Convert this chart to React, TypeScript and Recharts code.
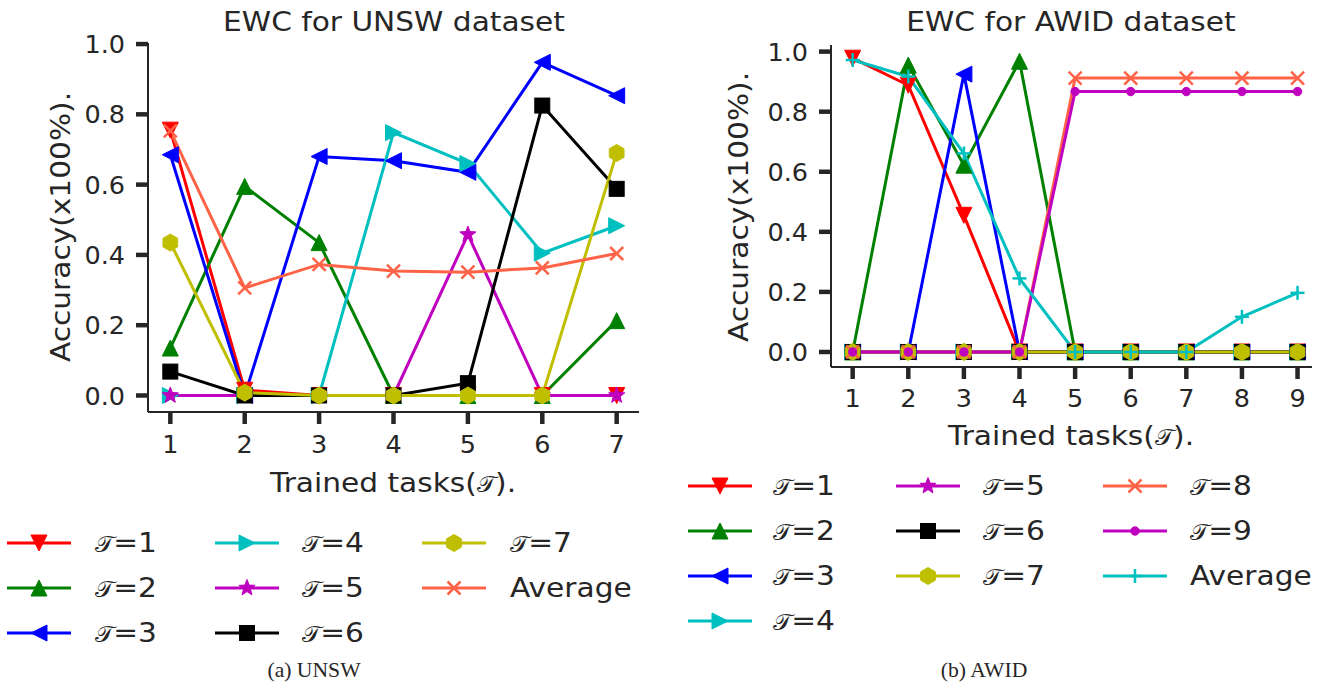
import { Line, LineChart, XAxis, YAxis } from "recharts";

// ---- UNSW (7 tasks) ----
const UNSW_TASKS = [1, 2, 3, 4, 5, 6, 7];
const UNSW_T1 = [0.755, 0.015, 0, 0, 0, 0, 0];
const UNSW_T2 = [0.135, 0.595, 0.435, 0, 0, 0, 0.213];
const UNSW_T3 = [0.685, 0, 0.68, 0.668, 0.635, 0.948, 0.853];
const UNSW_T4 = [0, 0, 0, 0.748, 0.66, 0.405, 0.483];
const UNSW_T5 = [0, 0, 0, 0, 0.458, 0, 0];
const UNSW_T6 = [0.068, 0, 0, 0, 0.035, 0.825, 0.588];
const UNSW_T7 = [0.435, 0.008, 0, 0, 0, 0, 0.69];
const UNSW_AVG = [0.753, 0.306, 0.373, 0.354, 0.351, 0.363, 0.404];

// ---- AWID (9 tasks) ----
const AWID_TASKS = [1, 2, 3, 4, 5, 6, 7, 8, 9];
const AWID_T1 = [0.978, 0.888, 0.455, 0, 0, 0, 0, 0, 0];
const AWID_T2 = [0, 0.955, 0.622, 0.968, 0, 0, 0, 0, 0];
const AWID_T3 = [0, 0, 0.925, 0, 0, 0, 0, 0, 0];
const AWID_T4 = [0, 0, 0, 0, 0, 0, 0, 0, 0];
const AWID_T5 = [0, 0, 0, 0, 0, 0, 0, 0, 0];
const AWID_T6 = [0, 0, 0, 0, 0, 0, 0, 0, 0];
const AWID_T7 = [0, 0, 0, 0, 0, 0, 0, 0, 0];
const AWID_T8 = [0, 0, 0, 0, 0.912, 0.912, 0.912, 0.912, 0.912];
const AWID_T9 = [0, 0, 0, 0, 0.867, 0.867, 0.867, 0.867, 0.867];
const AWID_AVG = [0.972, 0.917, 0.661, 0.245, 0, 0, 0, 0.117, 0.197];

const Y_TICKS = [0, 0.2, 0.4, 0.6, 0.8, 1.0];

const FONT = "'DejaVu Sans', sans-serif";
const INK = "#262626";

type Series = { key: string; name: string; values: number[]; color: string; marker: string };

const UNSW_SERIES: Series[] = [
  { key: "t1", name: "𝒯=1", values: UNSW_T1, color: "#ff0000", marker: "v" },
  { key: "t2", name: "𝒯=2", values: UNSW_T2, color: "#008000", marker: "^" },
  { key: "t3", name: "𝒯=3", values: UNSW_T3, color: "#0000ff", marker: "<" },
  { key: "t4", name: "𝒯=4", values: UNSW_T4, color: "#00bfbf", marker: ">" },
  { key: "t5", name: "𝒯=5", values: UNSW_T5, color: "#bf00bf", marker: "*" },
  { key: "t6", name: "𝒯=6", values: UNSW_T6, color: "#000000", marker: "s" },
  { key: "t7", name: "𝒯=7", values: UNSW_T7, color: "#bfbf00", marker: "h" },
  { key: "avg", name: "Average", values: UNSW_AVG, color: "#ff6347", marker: "x" },
];

const AWID_SERIES: Series[] = [
  { key: "t1", name: "𝒯=1", values: AWID_T1, color: "#ff0000", marker: "v" },
  { key: "t2", name: "𝒯=2", values: AWID_T2, color: "#008000", marker: "^" },
  { key: "t3", name: "𝒯=3", values: AWID_T3, color: "#0000ff", marker: "<" },
  { key: "t4", name: "𝒯=4", values: AWID_T4, color: "#00bfbf", marker: ">" },
  { key: "t5", name: "𝒯=5", values: AWID_T5, color: "#bf00bf", marker: "*" },
  { key: "t6", name: "𝒯=6", values: AWID_T6, color: "#000000", marker: "s" },
  { key: "t7", name: "𝒯=7", values: AWID_T7, color: "#bfbf00", marker: "h" },
  { key: "t8", name: "𝒯=8", values: AWID_T8, color: "#ff6347", marker: "x" },
  { key: "t9", name: "𝒯=9", values: AWID_T9, color: "#bf00bf", marker: "." },
  { key: "avg", name: "Average", values: AWID_AVG, color: "#00bfbf", marker: "+" },
];

function toRows(tasks: number[], series: Series[]) {
  return tasks.map((x, i) => {
    const row: Record<string, number> = { x };
    series.forEach((s) => { row[s.key] = s.values[i]; });
    return row;
  });
}

// the script T comes from a fallback font that runs wide; shrink it a bit
function MathText({ text }: { text: string }) {
  const parts = text.split("𝒯");
  return (
    <>
      {parts.map((p, i) => (
        <span key={i}>
          {i > 0 && <span style={{ fontSize: "0.86em", marginRight: -1 }}>𝒯</span>}
          {p}
        </span>
      ))}
    </>
  );
}

function Marker({ kind, color, cx, cy }: { kind: string; color: string; cx: number; cy: number }) {
  const r = 8;
  if (cx == null || cy == null) return null;
  switch (kind) {
    case "v":
      return <polygon points={`${cx},${cy + r} ${cx - r},${cy - r} ${cx + r},${cy - r}`} fill={color} stroke={color} />;
    case "^":
      return <polygon points={`${cx},${cy - r} ${cx - r},${cy + r} ${cx + r},${cy + r}`} fill={color} stroke={color} />;
    case "<":
      return <polygon points={`${cx - r},${cy} ${cx + r},${cy - r} ${cx + r},${cy + r}`} fill={color} stroke={color} />;
    case ">":
      return <polygon points={`${cx + r},${cy} ${cx - r},${cy - r} ${cx - r},${cy + r}`} fill={color} stroke={color} />;
    case "s":
      return <rect x={cx - 7.5} y={cy - 7.5} width={15} height={15} fill={color} stroke={color} />;
    case "h": {
      const pts = [0, 1, 2, 3, 4, 5].map((k) => {
        const a = (Math.PI / 180) * (90 + 60 * k);
        return `${cx + 8.5 * Math.cos(a)},${cy - 8.5 * Math.sin(a)}`;
      });
      return <polygon points={pts.join(" ")} fill={color} stroke={color} />;
    }
    case "*": {
      const pts = Array.from({ length: 10 }, (_, k) => {
        const rr = k % 2 === 0 ? 8.5 : 3.6;
        const a = (Math.PI / 180) * (90 + 36 * k);
        return `${cx + rr * Math.cos(a)},${cy - rr * Math.sin(a)}`;
      });
      return <polygon points={pts.join(" ")} fill={color} stroke={color} />;
    }
    case "x":
      return (
        <g stroke={color} strokeWidth={2.5}>
          <line x1={cx - 6.5} y1={cy - 6.5} x2={cx + 6.5} y2={cy + 6.5} />
          <line x1={cx - 6.5} y1={cy + 6.5} x2={cx + 6.5} y2={cy - 6.5} />
        </g>
      );
    case "+":
      return (
        <g stroke={color} strokeWidth={2.5}>
          <line x1={cx - 7} y1={cy} x2={cx + 7} y2={cy} />
          <line x1={cx} y1={cy - 7} x2={cx} y2={cy + 7} />
        </g>
      );
    case ".":
      return <circle cx={cx} cy={cy} r={4.2} fill={color} stroke={color} />;
    default:
      return null;
  }
}

function Panel({ left, width, height, margin, yAxisWidth, xAxisHeight, tasks, series, xDomain, yDomain, xTickMargin }: any) {
  const rows = toRows(tasks, series);
  const tickStyle = { fontSize: 25.5, fill: INK, fontFamily: FONT };
  return (
    <div style={{ position: "absolute", left, top: 0 }}>
      <LineChart width={width} height={height} data={rows} margin={margin}>
        <XAxis
          dataKey="x"
          type="number"
          domain={xDomain}
          allowDataOverflow
          ticks={tasks}
          height={xAxisHeight}
          tick={tickStyle}
          tickSize={12}
          tickMargin={xTickMargin}
          tickLine={{ stroke: INK, strokeWidth: 4.5 }}
          axisLine={{ stroke: INK, strokeWidth: 2 }}
        />
        <YAxis
          type="number"
          domain={yDomain}
          allowDataOverflow
          ticks={Y_TICKS}
          width={yAxisWidth}
          tick={tickStyle}
          tickFormatter={(v: number) => v.toFixed(1)}
          tickSize={12}
          tickMargin={11}
          tickLine={{ stroke: INK, strokeWidth: 4.5 }}
          axisLine={{ stroke: INK, strokeWidth: 2 }}
        />
        {series.map((s: Series) => (
          <Line
            key={s.key}
            dataKey={s.key}
            type="linear"
            stroke={s.color}
            strokeWidth={3}
            isAnimationActive={false}
            dot={(p: any) => <Marker key={`${s.key}-${p.index}`} kind={s.marker} color={s.color} cx={p.cx} cy={p.cy} />}
            activeDot={false}
          />
        ))}
      </LineChart>
    </div>
  );
}

function CenterText({ x, y, text, size = 26, stretch = 1.14, rotate = false, family = FONT }: any) {
  const tf = rotate
    ? `translate(-50%, -50%) rotate(-90deg) scaleX(${stretch})`
    : `translate(-50%, -50%) scaleX(${stretch})`;
  return (
    <div
      style={{
        position: "absolute", left: x, top: y, transform: tf, whiteSpace: "nowrap",
        fontSize: size, lineHeight: 1, fontFamily: family, color: INK,
      }}
    >
      <MathText text={text} />
    </div>
  );
}

function LegendItem({ s, x, y, textX }: { s: Series; x: number; y: number; textX: number }) {
  return (
    <>
      <svg style={{ position: "absolute", left: x, top: y - 12 }} width={64} height={24}>
        <line x1={0} y1={12} x2={64} y2={12} stroke={s.color} strokeWidth={3} />
        <Marker kind={s.marker} color={s.color} cx={32} cy={12} />
      </svg>
      <div
        style={{
          position: "absolute", left: textX, top: y, transform: "translateY(-50%) scaleX(1.14)",
          transformOrigin: "left center", whiteSpace: "nowrap", fontSize: 26, lineHeight: 1,
          fontFamily: FONT, color: INK,
        }}
      >
        <MathText text={s.name} />
      </div>
    </>
  );
}

export default function App() {
  const unswCols = [[0, 1, 2], [3, 4, 5], [6, 7]];
  const unswColX = [{ x: 7, t: 95 }, { x: 215, t: 302 }, { x: 422, t: 510 }];
  const unswRowY = [543, 588, 633];
  const awidCols = [[0, 1, 2, 3], [4, 5, 6], [7, 8, 9]];
  const awidColX = [{ x: 688, t: 773 }, { x: 896, t: 983 }, { x: 1103, t: 1190 }];
  const awidRowY = [486, 531, 576, 621];

  return (
    <div style={{ position: "absolute", left: 0, top: 0, width: 1331, height: 684, background: "#fff", overflow: "hidden" }}>
      <Panel
        left={0} width={660} height={470}
        margin={{ top: 43, right: 21, bottom: 0, left: 0 }}
        yAxisWidth={148} xAxisHeight={58}
        tasks={UNSW_TASKS} series={UNSW_SERIES}
        xDomain={[0.7, 7.3]} yDomain={[-0.047, 1.003]} xTickMargin={11}
      />
      <Panel
        left={680} width={651} height={420}
        margin={{ top: 45, right: 19, bottom: 0, left: 0 }}
        yAxisWidth={151} xAxisHeight={53}
        tasks={AWID_TASKS} series={AWID_SERIES}
        xDomain={[0.61, 9.26]} yDomain={[-0.05, 1.022]} xTickMargin={10}
      />

      <CenterText x={393.5} y={22} text="EWC for UNSW dataset" />
      <CenterText x={1071} y={22} text="EWC for AWID dataset" />
      <CenterText x={393} y={483} text="Trained tasks(𝒯)." />
      <CenterText x={1071} y={436} text="Trained tasks(𝒯)." />
      <CenterText x={61} y={227} text="Accuracy(x100%)." rotate />
      <CenterText x={739} y={207} text="Accuracy(x100%)." rotate />

      {unswCols.map((col, ci) =>
        col.map((si, ri) => (
          <LegendItem key={`u-${si}`} s={UNSW_SERIES[si]} x={unswColX[ci].x} y={unswRowY[ri]} textX={unswColX[ci].t} />
        ))
      )}
      {awidCols.map((col, ci) =>
        col.map((si, ri) => (
          <LegendItem key={`a-${si}`} s={AWID_SERIES[si]} x={awidColX[ci].x} y={awidRowY[ri]} textX={awidColX[ci].t} />
        ))
      )}

      <CenterText x={314} y={670} text="(a) UNSW" size={21} stretch={1.03} family="'Liberation Serif', 'Times New Roman', serif" />
      <CenterText x={984} y={670} text="(b) AWID" size={21} stretch={1.03} family="'Liberation Serif', 'Times New Roman', serif" />
    </div>
  );
}
